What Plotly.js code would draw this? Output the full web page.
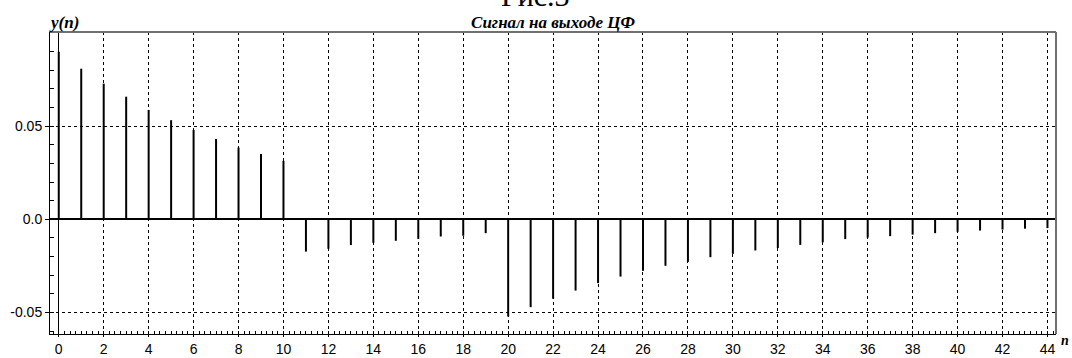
<!DOCTYPE html>
<html>
<head>
<meta charset="utf-8">
<script src="https://cdn.plot.ly/plotly-3.0.1.min.js"></script>
<style>html,body{margin:0;padding:0;background:#fff;}#chart{width:1072px;height:358px;}</style>
</head>
<body>
<div id="chart"></div>
<script>
// sample index
var n = [];
for (var i = 0; i <= 44; i++) n.push(i);
// output signal values y(n)
var yValues = [
  0.0899, 0.0808, 0.0728, 0.0658, 0.0587, 0.0532, 0.0480, 0.0431, 0.0385, 0.0351, 0.0314,
  -0.0173, -0.0158, -0.0138, -0.0126, -0.0115, -0.0105, -0.0092, -0.0088, -0.0074,
  -0.0521, -0.0471, -0.0426, -0.0382, -0.0342, -0.0307, -0.0276, -0.0249, -0.0228, -0.0203,
  -0.0185, -0.0167, -0.0154, -0.0137, -0.0123, -0.0106, -0.0098, -0.0090, -0.0082, -0.0074,
  -0.0067, -0.0060, -0.0055, -0.0050, -0.0047
];
var xTickVals = [0,2,4,6,8,10,12,14,16,18,20,22,24,26,28,30,32,34,36,38,40,42,44];
var yTickVals = [-0.05, 0, 0.05];
var yTickText = ["-0.05", "0.0", "0.05"];
var titleText = "Сигнал на выходе ЦФ";
var figLabel = "Рис.3";

// build stems
var sx = [], sy = [];
for (var k = 0; k < n.length; k++) {
  sx.push(n[k], n[k], null);
  sy.push(0, yValues[k], null);
}

var trace = {
  x: sx, y: sy, type: 'scatter', mode: 'lines',
  line: {color: '#000', width: 2},
  hoverinfo: 'skip', showlegend: false
};

var tickFont = {family: 'Liberation Sans, Arial, sans-serif', size: 14, color: '#000'};
var serifBI = {family: 'Liberation Serif, Times New Roman, serif', size: 17, color: '#000', weight: 'bold', style: 'italic'};

var layout = {
  width: 1072, height: 358,
  margin: {l: 50, r: 16, t: 32, b: 24, pad: 0},
  paper_bgcolor: '#fff', plot_bgcolor: '#fff',
  showlegend: false,
  title: {
    text: titleText, font: serifBI,
    x: 0.5, xref: 'paper', xanchor: 'center',
    y: 1 - 22/358, yref: 'container', yanchor: 'middle'
  },
  xaxis: {
    range: [-0.39, 44.38],
    tickmode: 'array', tickvals: xTickVals,
    ticks: 'outside', ticklen: 2, tickcolor: '#000', tickwidth: 1,
    tickfont: tickFont,
    showline: true, linecolor: '#000', linewidth: 1,
    showgrid: true, gridcolor: '#000', gridwidth: 1, griddash: '3px,3px',
    zeroline: true, zerolinecolor: '#000', zerolinewidth: 1,
    minor: {ticks: 'inside', dtick: 0.25, ticklen: 3, tickcolor: '#000', showgrid: false},
    fixedrange: true
  },
  yaxis: {
    range: [-0.0615, 0.1005],
    tickmode: 'array', tickvals: yTickVals, ticktext: yTickText,
    ticks: 'outside', ticklen: 4, tickcolor: '#000', tickwidth: 1,
    tickfont: tickFont,
    showline: true, linecolor: '#000', linewidth: 1,
    showgrid: true, gridcolor: '#000', gridwidth: 1, griddash: '3px,3px',
    zeroline: true, zerolinecolor: '#000', zerolinewidth: 2,
    minor: {ticks: 'inside', dtick: 0.01, ticklen: 4, tickcolor: '#000', showgrid: false},
    fixedrange: true
  },
  shapes: [
    {type: 'line', xref: 'paper', yref: 'paper', x0: 0, x1: 1, y0: 1, y1: 1, line: {color: '#707070', width: 2}},
    {type: 'line', xref: 'paper', yref: 'paper', x0: 1, x1: 1, y0: 0, y1: 1, line: {color: '#707070', width: 2}}
  ],
  annotations: [
    {text: 'y(n)', xref: 'paper', yref: 'paper', x: -0.003, y: (334-23)/302, xanchor: 'left', yanchor: 'middle', showarrow: false, font: serifBI},
    {text: 'n', xref: 'paper', yref: 'paper', x: (1059-50)/1006, y: (334-340)/302, xanchor: 'left', yanchor: 'middle', showarrow: false,
     font: {family: 'Liberation Serif, Times New Roman, serif', size: 14, color: '#000', weight: 'bold', style: 'italic'}},
    {text: figLabel, xref: 'paper', yref: 'paper', x: (535-50)/1006, y: (334-14)/302, xanchor: 'center', yanchor: 'bottom', showarrow: false,
     font: {family: 'Liberation Serif, Times New Roman, serif', size: 30, color: '#000'}}
  ]
};

Plotly.newPlot('chart', [trace], layout, {displayModeBar: false, staticPlot: true});
</script>
</body>
</html>
